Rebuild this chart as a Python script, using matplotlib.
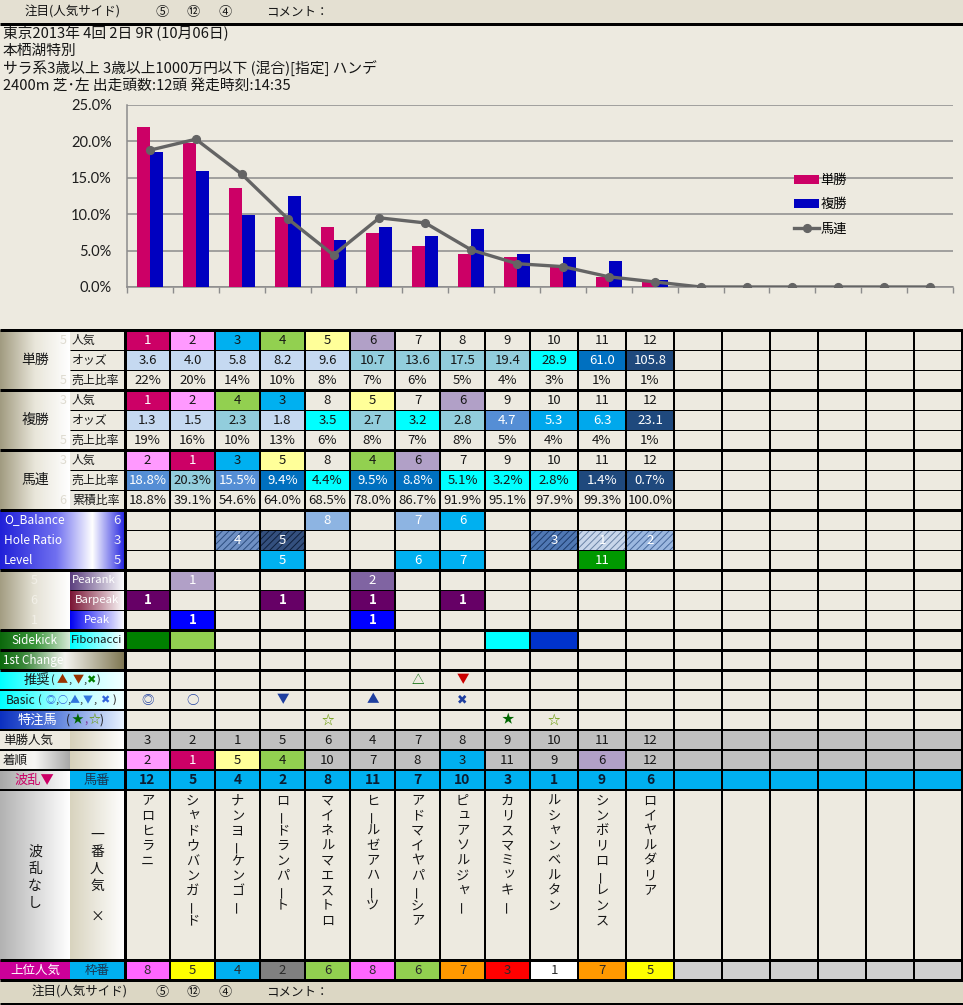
import numpy as np
import matplotlib
matplotlib.use('Agg')
import matplotlib.pyplot as plt
from matplotlib.patches import Rectangle
from matplotlib.colors import LinearSegmentedColormap
from matplotlib.ticker import PercentFormatter, FixedLocator, NullFormatter

plt.rcParams['font.family'] = ['Noto Sans CJK JP', 'DejaVu Sans']
plt.rcParams['hatch.linewidth'] = 0.7

# ---------------- data ----------------
header_note = ['注目(人気サイド)', '⑤', '⑫', '④', 'コメント：']
race_title = '東京2013年 4回 2日 9R (10月06日)'
race_name = '本栖湖特別'
race_class = 'サラ系3歳以上 3歳以上1000万円以下 (混合)[指定] ハンデ'
race_info = '2400m 芝･左 出走頭数:12頭 発走時刻:14:35'

chart_slots = np.arange(18)
win_share = [22.0, 19.8, 13.6, 9.6, 8.2, 7.4, 5.7, 4.5, 4.1, 2.8, 1.4, 0.7, 0, 0, 0, 0, 0, 0]
place_share = [18.5, 15.9, 9.9, 12.5, 6.4, 8.2, 7.0, 8.0, 4.6, 4.1, 3.6, 1.0, 0, 0, 0, 0, 0, 0]
quinella_share = [18.8, 20.3, 15.5, 9.4, 4.4, 9.5, 8.8, 5.1, 3.2, 2.8, 1.4, 0.7, 0, 0, 0, 0, 0, 0]
series_labels = ['単勝', '複勝', '馬連']
y_ticks = [0, 5, 10, 15, 20, 25]

tan_ninki = [1, 2, 3, 4, 5, 6, 7, 8, 9, 10, 11, 12]
tan_odds = [3.6, 4.0, 5.8, 8.2, 9.6, 10.7, 13.6, 17.5, 19.4, 28.9, 61.0, 105.8]
tan_ratio = [22, 20, 14, 10, 8, 7, 6, 5, 4, 3, 1, 1]
fuku_ninki = [1, 2, 4, 3, 8, 5, 7, 6, 9, 10, 11, 12]
fuku_odds = [1.3, 1.5, 2.3, 1.8, 3.5, 2.7, 3.2, 2.8, 4.7, 5.3, 6.3, 23.1]
fuku_ratio = [19, 16, 10, 13, 6, 8, 7, 8, 5, 4, 4, 1]
um_ninki = [2, 1, 3, 5, 8, 4, 6, 7, 9, 10, 11, 12]
um_ratio = [18.8, 20.3, 15.5, 9.4, 4.4, 9.5, 8.8, 5.1, 3.2, 2.8, 1.4, 0.7]
um_cum = [18.8, 39.1, 54.6, 64.0, 68.5, 78.0, 86.7, 91.9, 95.1, 97.9, 99.3, 100.0]

o_balance = {5: 8, 7: 7, 8: 6}
hole_ratio = {3: 4, 4: 5, 10: 3, 11: 1, 12: 2}
level = {4: 5, 7: 6, 8: 7, 11: 11}
pearank = {2: 1, 6: 2}
barpeak = {1: 1, 4: 1, 6: 1, 8: 1}
peak = {2: 1, 6: 1}
sidekick = [1, 2, 9, 10]
suisen = {7: '△', 8: '▼'}
basic = {1: '◎', 2: '○', 4: '▼', 6: '▲', 8: '✖'}
tokuchu = {5: '☆', 9: '★', 10: '☆'}

horse_tan_ninki = [3, 2, 1, 5, 6, 4, 7, 8, 9, 10, 11, 12]
chakujun = [2, 1, 5, 4, 10, 7, 8, 3, 11, 9, 6, 12]
umaban = [12, 5, 4, 2, 8, 11, 7, 10, 3, 1, 9, 6]
horse_names = ['アロヒラニ', 'シャドウバンガード', 'ナンヨーケンゴー', 'ロードランパート',
               'マイネルマエストロ', 'ヒールゼアハーツ', 'アドマイヤパーシア', 'ピュアソルジャー',
               'カリスマミッキー', 'ルシャンベルタン', 'シンボリローレンス', 'ロイヤルダリア']
wakuban = [8, 5, 4, 2, 6, 8, 6, 7, 3, 1, 7, 5]

# ---------------- styles ----------------
W, H = 963, 1005
BG = '#EDEAE0'
TXT = '#161616'
NINKI_BG = {1: '#CC0066', 2: '#FF99FF', 3: '#00B0F0', 4: '#92D050', 5: '#FFFF99', 6: '#B1A0C7'}
WAKU_BG = {1: '#FFFFFF', 2: '#808080', 3: '#FF0000', 4: '#00B0F0', 5: '#FFFF00',
           6: '#92D050', 7: '#FF9900', 8: '#FF66FF'}
LIGHT = '#C5D9F1'; TEAL = '#92CDDC'; CYAN = '#00FFFF'; MID = '#558ED5'
SKY = '#00A8EC'; BLUE = '#0070C0'; NAVY = '#1F497D'
DARK_BGS = {MID, SKY, BLUE, NAVY}


def tan_color(v):
    if v < 10: return LIGHT
    if v < 20: return TEAL
    if v < 50: return CYAN
    if v < 100: return BLUE
    return NAVY


def fuku_color(v):
    if v < 2: return LIGHT
    if v < 3: return TEAL
    if v < 4: return CYAN
    if v < 5: return MID
    if v < 10: return SKY
    return NAVY


um_colors = [MID, TEAL, MID, BLUE, CYAN, BLUE, BLUE, CYAN, CYAN, CYAN, NAVY, NAVY]

fig = plt.figure(figsize=(W / 100, H / 100), dpi=100, facecolor=BG)
tab = fig.add_axes([0, 0, 1, 1])
tab.axis('off')

XE = [125, 170, 215, 260, 305, 350, 395, 440, 485, 530, 578, 626, 674, 722, 770, 818, 866, 914, 962]


def cx(i):
    return (XE[i] + XE[i + 1]) / 2


def rect(x0, y0, x1, y1, fc, z=2):
    tab.add_patch(Rectangle((x0, y0), x1 - x0, y1 - y0, facecolor=fc, edgecolor='none', zorder=z))


def grad(x0, y0, x1, y1, stops):
    cmap = LinearSegmentedColormap.from_list('g', stops)
    tab.imshow(np.linspace(0, 1, 256).reshape(1, -1), cmap=cmap, extent=(x0, x1, y1, y0),
               aspect='auto', interpolation='bilinear', zorder=1)


def txt(x, y, s, c=TXT, fs=9.5, ha='center', w='normal', **kw):
    tab.text(x, y, s, color=c, fontsize=fs, ha=ha, va='center', fontweight=w, zorder=6, **kw)


def cell(i, y0, fc=None, s=None, c=TXT, fs=9.5, w='normal', h=20):
    if fc:
        rect(XE[i], y0, XE[i + 1], y0 + h, fc)
    if s is not None:
        txt(cx(i), y0 + h / 2, s, c=c, fs=fs, w=w)


def hline(y, x0, x1, px):
    tab.plot([x0, x1], [y, y], color='black', lw=px * 0.72, solid_capstyle='butt', zorder=5)


def vline(x, y0, y1, px):
    tab.plot([x, x], [y0, y1], color='black', lw=px * 0.72, solid_capstyle='butt', zorder=5)


# ---------- top / bottom bars and header ----------
rect(0, 0, W, 23, '#E4E0D2', z=0)
rect(0, 980, W, 1005, '#DCD7C4', z=0)
for yb, x_first in ((12, 25), (992, 32)):
    txt(x_first, yb, header_note[0], ha='left', fs=9)
    txt(162, yb, header_note[1], fs=9.5)
    txt(193, yb, header_note[2], fs=9.5)
    txt(225, yb, header_note[3], fs=9.5)
    txt(266, yb, header_note[4], ha='left', fs=9)
hline(23.5, 0, W, 3)
txt(3, 33, race_title, ha='left', fs=10.6)
txt(3, 51, race_name, ha='left', fs=10.6)
txt(3, 69, race_class, ha='left', fs=10.6)
txt(3, 86, race_info, ha='left', fs=10.6)

# ---------- label area ----------
TAN_G = ['#A19B80', '#E9E6DA', '#FFFFFF']
for y0, name, ghosts in ((330, '単勝', ('5', '', '5')), (390, '複勝', ('3', '', '5')),
                         (450, '馬連', ('3', '', '6'))):
    grad(0, y0, 70, y0 + 60, TAN_G)
    txt(35, y0 + 30, name, fs=10)
    for k, g in enumerate(ghosts):
        if g:
            txt(63, y0 + 10 + 20 * k, g, c='#DEDBD0', fs=9)
for k, sub in enumerate(['人気', 'オッズ', '売上比率']):
    txt(72, 340 + 20 * k, sub, ha='left', fs=8.6)
    txt(72, 400 + 20 * k, sub, ha='left', fs=8.6)
for k, sub in enumerate(['人気', '売上比率', '累積比率']):
    txt(72, 460 + 20 * k, sub, ha='left', fs=8.6)

BLUE_G = [(0, '#2020D8'), (0.45, '#7070F0'), (0.74, '#FFFFFF'), (1, '#2424E0')]
for k, (lab, num) in enumerate([('O_Balance', '6'), ('Hole Ratio', '3'), ('Level', '5')]):
    grad(0, 510 + 20 * k, 125, 530 + 20 * k, BLUE_G)
    txt(4, 520 + 20 * k, lab, c='white', ha='left', fs=8.6)
    txt(121, 520 + 20 * k, num, c='#EDEDF8', ha='right', fs=9.5)

grad(0, 570, 70, 630, ['#A39D82', '#E5E2D6', '#FFFFFF'])
for k, g in enumerate(['5', '6', '1']):
    txt(34, 580 + 20 * k, g, c='#F2F0E8', fs=9)
grad(70, 570, 125, 590, ['#5B3F7E', '#FFFFFF'])
txt(72, 580, 'Pearank', c='white', ha='left', fs=8.2)
grad(70, 590, 125, 610, ['#7A1434', '#FFFFFF'])
txt(97, 600, 'Barpeak', c='white', fs=8.2)
grad(70, 610, 125, 630, ['#0000F0', '#FFFFFF'])
txt(97, 620, 'Peak', c='white', fs=8.2)

grad(0, 630, 70, 650, ['#0C680C', '#3C963C', '#D8EAD8'])
txt(34, 640, 'Sidekick', c='white', fs=8.4)
grad(70, 630, 125, 650, ['#00FFFF', '#FFFFFF'])
txt(97, 640, 'Fibonacci', fs=8.2)

grad(0, 650, 125, 670, [(0, '#0C680C'), (0.2, '#3E8A3E'), (0.52, '#F4F4F0'), (1, '#7E7650')])
txt(3, 660, '1st Change', c='white', ha='left', fs=8.4)

CYAN_G = ['#00FFFF', '#AAFFFF', '#F2FFFF']
grad(0, 670, 125, 690, CYAN_G)
txt(37, 680, '推奨', fs=9.5)
for xx, s, c in ((53, '(', TXT), (62, '▲', '#993300'), (70, ',', TXT), (78, '▼', '#993300'),
                 (85, ',', TXT), (91, '✖', '#008000'), (98, ')', TXT)):
    txt(xx, 680, s, c=c, fs=8)
grad(0, 690, 125, 710, CYAN_G)
txt(21, 700, 'Basic', fs=8.6)
for xx, s, c in ((40, '(', TXT), (50, '◎', '#3366DD'), (56.5, ',', TXT), (63, '○', '#3366DD'),
                 (69, ',', TXT), (75, '▲', '#3377DD'), (81, ',', TXT), (88, '▼', '#3377DD'),
                 (95, ',', TXT), (105, '✖', '#3366DD'), (114, ')', TXT)):
    txt(xx, 700, s, c=c, fs=7.2 if s in '◎○▲▼' else 8)
grad(0, 710, 125, 730, [(0, '#0C30C0'), (0.45, '#5E82DC'), (1, '#EAF4FF')])
txt(37, 720, '特注馬', c='white', fs=9.5)
for xx, s, c in ((68, '(', TXT), (77, '★', '#006600'), (86, ',', '#8040A0'), (94, '☆', '#669900'),
                 (102, ')', TXT)):
    txt(xx, 720, s, c=c, fs=8.5)

grad(70, 730, 125, 770, ['#D6D1BA', '#FFFFFF'])
txt(3, 740, '単勝人気', ha='left', fs=9)
grad(0, 750, 70, 770, [BG, '#F6F6F4', '#A8A8A8'])
txt(3, 760, '着順', ha='left', fs=9)
grad(0, 770, 70, 790, ['#A8A8A8', '#FFFFFF'])
txt(34, 780, '波乱▼', c='#CC0066', fs=9.5)
rect(70, 770, 125, 790, '#00B0F0')
txt(97, 780, '馬番', c='#1A3550', fs=9.5)
grad(0, 790, 70, 960, ['#B2B2B2', '#FFFFFF'])
grad(70, 790, 125, 960, ['#D8D3BE', '#FFFFFF'])
for k, ch in enumerate('波乱なし'):
    txt(35, 852 + 17 * k, ch, fs=10)
for k, ch in enumerate('一番人気'):
    txt(97, 835 + 17 * k, ch, fs=10)
txt(97, 917, '×', fs=10)
rect(0, 960, 70, 980, '#CC0099')
txt(35, 970, '上位人気', c='white', fs=9)
rect(70, 960, 125, 980, '#00B0F0')
txt(97, 970, '枠番', c='#1A3550', fs=9)

# ---------- table cells ----------
for i in range(12):
    n = tan_ninki[i]
    cell(i, 330, NINKI_BG.get(n), str(n), c='white' if n == 1 else TXT)
    fc = tan_color(tan_odds[i])
    cell(i, 350, fc, f'{tan_odds[i]:.1f}', c='white' if fc in DARK_BGS else TXT)
    cell(i, 370, None, f'{tan_ratio[i]}%')
    n = fuku_ninki[i]
    cell(i, 390, NINKI_BG.get(n), str(n), c='white' if n == 1 else TXT)
    fc = fuku_color(fuku_odds[i])
    cell(i, 410, fc, f'{fuku_odds[i]:.1f}', c='white' if fc in DARK_BGS else TXT)
    cell(i, 430, None, f'{fuku_ratio[i]}%')
    n = um_ninki[i]
    cell(i, 450, NINKI_BG.get(n), str(n), c='white' if n == 1 else TXT)
    fc = um_colors[i]
    cell(i, 470, fc, f'{um_ratio[i]:.1f}%', c='white' if fc in DARK_BGS else TXT)
    cell(i, 490, None, f'{um_cum[i]:.1f}%')

for col, v in o_balance.items():
    cell(col - 1, 510, '#00B0F0' if v == 6 else '#8DB4E2', str(v), c='white')
HOLE_STYLE = {4: ('#6F90C4', '#2C4C7E'), 5: ('#34507E', '#0E1E3A'), 3: ('#5078B4', '#1C3A6A'),
              1: ('#C8D6EA', '#6A84A6'), 2: ('#9CB8E0', '#4A6A9E')}
for col, v in hole_ratio.items():
    i = col - 1
    fc, hc = HOLE_STYLE[v]
    rect(XE[i], 530, XE[i + 1], 550, fc)
    tab.add_patch(Rectangle((XE[i], 530), XE[i + 1] - XE[i], 20, fill=False, hatch='/////',
                            edgecolor=hc, linewidth=0, zorder=3))
    txt(cx(i), 540, str(v), c='white', fs=9.5)
for col, v in level.items():
    cell(col - 1, 550, '#009900' if v == 11 else '#00B0F0', str(v), c='white')
for col, v in pearank.items():
    cell(col - 1, 570, '#B1A0C7' if v == 1 else '#8064A2', str(v), c='white')
for col, v in barpeak.items():
    cell(col - 1, 590, '#660066', str(v), c='white', w='bold')
for col, v in peak.items():
    cell(col - 1, 610, '#0000FF', str(v), c='white', w='bold')
SIDE_BG = ['#008000', '#92D050', '#00FFFF', '#0033CC']
for col, fc in zip(sidekick, SIDE_BG):
    cell(col - 1, 630, fc)
for col, s in suisen.items():
    cell(col - 1, 670, None, s, c='#006600' if s == '△' else '#CC0000', fs=9)
for col, s in basic.items():
    cell(col - 1, 690, None, s, c='#1F3FA0', fs=9)
for col, s in tokuchu.items():
    cell(col - 1, 710, None, s, c='#006600' if s == '★' else '#669900', fs=9)

for i in range(18):
    rect(XE[i], 730, XE[i + 1], 770, '#C0C0C0')
    rect(XE[i], 770, XE[i + 1], 790, '#00B0F0')
    if i >= 12:
        rect(XE[i], 960, XE[i + 1], 980, '#D0D0D0')
for i in range(12):
    cell(i, 730, None, str(horse_tan_ninki[i]))
    r = chakujun[i]
    cell(i, 750, NINKI_BG.get(r), str(r), c='white' if r == 1 else TXT)
    cell(i, 770, None, str(umaban[i]), c='#0C1C30', w='bold', fs=10)
    for k, ch in enumerate(horse_names[i]):
        yy = 801 + 15 * k
        if ch == 'ー':
            txt(cx(i), yy, ch, fs=9.5, rotation=90)
        elif ch in 'ャュョッァィ':
            txt(cx(i) + 2, yy - 2, ch, fs=9.5)
        else:
            txt(cx(i), yy, ch, fs=9.5)
    w = wakuban[i]
    cell(i, 960, WAKU_BG[w], str(w), c='#2A2A2A')

# ---------- grid lines ----------
for y in (329.5, 390, 450, 510, 570, 630, 650, 670, 960, 980):
    hline(y, 0, 963, 3)
hline(1003.5, 0, 963, 3)
for y in (350, 370, 410, 430, 470, 490, 590, 610):
    hline(y, 70, 962, 1)
for y in (530, 550):
    hline(y, 125, 962, 1)
for y in (690, 710, 730, 750, 770, 790):
    hline(y, 0, 962, 2)
for k, x in enumerate(XE):
    vline(x, 329, 981, 3 if k == 0 else 2)

tab.set_xlim(0, W)
tab.set_ylim(H, 0)

# ---------- chart ----------
ax = fig.add_axes([127 / W, 1 - 287 / H, 826 / W, 182 / H])
ax.patch.set_alpha(0)
bw = 13 / 46
b1 = ax.bar(chart_slots - bw / 2, win_share, width=bw, color='#CC0066', label=series_labels[0], zorder=3)
b2 = ax.bar(chart_slots + bw / 2, place_share, width=bw, color='#0000C0', label=series_labels[1], zorder=3)
l3, = ax.plot(chart_slots, quinella_share, color='#646464', lw=2.4, marker='o', ms=5.6,
              label=series_labels[2], zorder=4)
ax.set_xlim(-0.5, 17.5)
ax.set_ylim(0, 25)
ax.set_yticks(y_ticks)
ax.yaxis.set_major_formatter(PercentFormatter(xmax=100, decimals=1))
ax.xaxis.set_major_locator(FixedLocator(np.arange(-0.5, 18, 1)))
ax.xaxis.set_major_formatter(NullFormatter())
ax.tick_params(axis='x', direction='out', length=4, width=1, color='#8C8C8C')
ax.tick_params(axis='y', length=0, pad=11, labelsize=10.5, labelcolor='#1E1E1E')
for lab in ax.get_yticklabels():
    lab.set_fontfamily(['Lato', 'DejaVu Sans'])
ax.yaxis.grid(True, color='#8C8C8C', lw=1.1)
ax.set_axisbelow(True)
for s in ('top', 'right'):
    ax.spines[s].set_visible(False)
for s in ('left', 'bottom'):
    ax.spines[s].set_color('#8C8C8C')
    ax.spines[s].set_linewidth(1.1)
ax.legend(handles=[b1, b2, l3], labels=series_labels, loc='upper left',
          bbox_to_anchor=(794 / W, 1 - 174 / H), bbox_transform=fig.transFigure,
          frameon=False, fontsize=9.5, handlelength=1.9, handletextpad=0.1,
          labelspacing=0.85, borderpad=0, borderaxespad=0)

fig.savefig('out.png', dpi=100, facecolor=BG)
